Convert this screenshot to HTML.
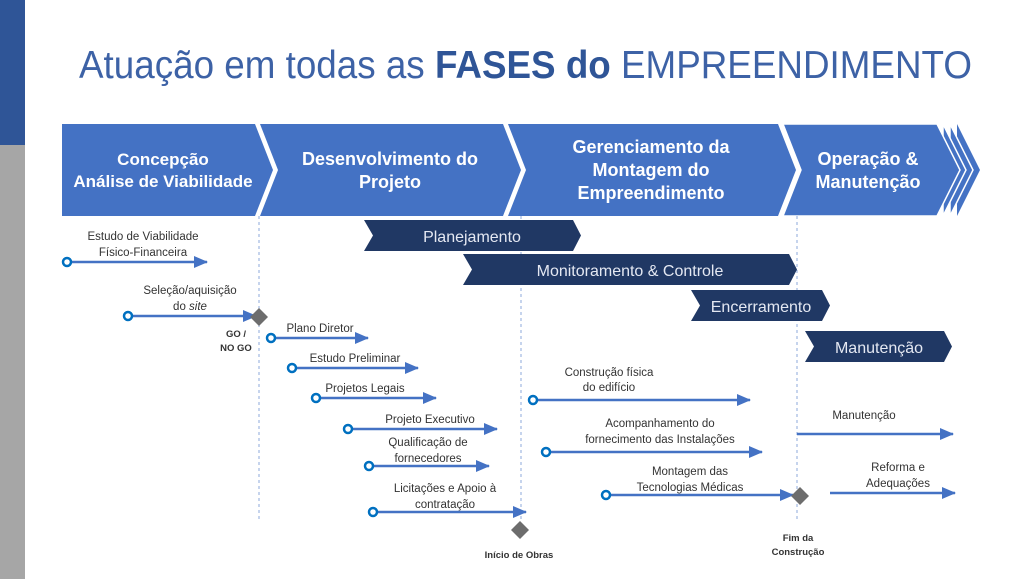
<!DOCTYPE html>
<html><head><meta charset="utf-8"><style>
html,body{margin:0;padding:0;background:#fff;}
svg{display:block;font-family:"Liberation Sans",sans-serif;}
</style></head><body>
<svg width="1024" height="579" viewBox="0 0 1024 579" xmlns="http://www.w3.org/2000/svg">
<defs>
<marker id="ah" markerWidth="14" markerHeight="12" refX="13" refY="6" orient="auto" markerUnits="userSpaceOnUse">
<path d="M0,0 L14,6 L0,12 Z" fill="#4472C4"/></marker>
</defs>
<rect x="0" y="0" width="25" height="145" fill="#2F5597"/>
<rect x="0" y="145" width="25" height="434" fill="#A6A6A6"/>
<text x="79" y="78" font-size="39" fill="#3D62A6" textLength="893" lengthAdjust="spacingAndGlyphs">Atuação em todas as <tspan font-weight="bold" fill="#2F5597">FASES do</tspan> EMPREENDIMENTO</text>

<g fill="#4472C4">
<polygon points="62,124 255,124 273,170 255,216 62,216"/>
<polygon points="260,124 503,124 521,170 503,216 260,216 278,170"/>
<polygon points="508,124 778,124 796,170 778,216 508,216 526,170"/>
<polygon points="957,124 980,170 957,216"/>
<polygon points="950,124 973,170 950,216" stroke="#fff" stroke-width="1.5"/>
<polygon points="943,124 966,170 943,216" stroke="#fff" stroke-width="1.5"/>
<polygon points="783,124 937,124 960,170 937,216 783,216 801,170" stroke="#fff" stroke-width="1.5"/>
</g>
<g fill="#fff" font-weight="bold" font-size="17" text-anchor="middle">
<text x="163" y="165">Concepção</text>
<text x="163" y="187">Análise de Viabilidade</text>
<text x="390" y="165" font-size="18">Desenvolvimento do</text>
<text x="390" y="188" font-size="18">Projeto</text>
<text x="651" y="153" font-size="18">Gerenciamento  da</text>
<text x="651" y="176" font-size="18">Montagem do</text>
<text x="651" y="199" font-size="18">Empreendimento</text>
<text x="868" y="165" font-size="18">Operação &amp;</text>
<text x="868" y="188" font-size="18">Manutenção</text>
</g>

<g stroke="#8EAADB" stroke-width="1" stroke-dasharray="3,3">
<line x1="259" y1="216" x2="259" y2="520"/>
<line x1="521" y1="216" x2="521" y2="520"/>
<line x1="797" y1="216" x2="797" y2="520"/>
</g>

<g fill="#203864">
<polygon points="364,220 573,220 581,235.5 573,251 364,251 373,235.5"/>
<polygon points="463,254 789,254 797,269.5 789,285 463,285 472,269.5"/>
<polygon points="691,290 822,290 830,305.5 822,321 691,321 700,305.5"/>
<polygon points="805,331 944,331 952,346.5 944,362 805,362 814,346.5"/>
</g>
<g fill="#E4E8F2" font-size="16" text-anchor="middle">
<text x="472" y="242">Planejamento</text>
<text x="630" y="276">Monitoramento &amp; Controle</text>
<text x="761" y="312">Encerramento</text>
<text x="879" y="353">Manutenção</text>
</g>

<g stroke="#4472C4" stroke-width="2.5" marker-end="url(#ah)">
<line x1="71" y1="262" x2="207" y2="262"/>
<line x1="132" y1="316" x2="256" y2="316"/>
<line x1="275" y1="338" x2="368" y2="338"/>
<line x1="296" y1="368" x2="418" y2="368"/>
<line x1="320" y1="398" x2="436" y2="398"/>
<line x1="352" y1="429" x2="497" y2="429"/>
<line x1="373" y1="466" x2="489" y2="466"/>
<line x1="377" y1="512" x2="526" y2="512"/>
<line x1="537" y1="400" x2="750" y2="400"/>
<line x1="550" y1="452" x2="762" y2="452"/>
<line x1="610" y1="495" x2="793" y2="495"/>
<line x1="797" y1="434" x2="953" y2="434"/>
<line x1="830" y1="493" x2="955" y2="493"/>
</g>
<g fill="#fff" stroke="#0070C0" stroke-width="2.5">
<circle cx="67" cy="262" r="4"/>
<circle cx="128" cy="316" r="4"/>
<circle cx="271" cy="338" r="4"/>
<circle cx="292" cy="368" r="4"/>
<circle cx="316" cy="398" r="4"/>
<circle cx="348" cy="429" r="4"/>
<circle cx="369" cy="466" r="4"/>
<circle cx="373" cy="512" r="4"/>
<circle cx="533" cy="400" r="4"/>
<circle cx="546" cy="452" r="4"/>
<circle cx="606" cy="495" r="4"/>
</g>
<g fill="#6D6D6D">
<polygon points="259,308 268,317 259,326 250,317"/>
<polygon points="520,521 529,530 520,539 511,530"/>
<polygon points="800,487 809,496 800,505 791,496"/>
</g>

<g fill="#333" font-size="11.5" text-anchor="middle">
<text x="143" y="240">Estudo de Viabilidade</text>
<text x="143" y="256">Físico-Financeira</text>
<text x="190" y="294">Seleção/aquisição</text>
<text x="190" y="310">do <tspan font-style="italic">site</tspan></text>
<text x="320" y="332">Plano Diretor</text>
<text x="355" y="362">Estudo Preliminar</text>
<text x="365" y="392">Projetos Legais</text>
<text x="430" y="423">Projeto Executivo</text>
<text x="428" y="446">Qualificação de</text>
<text x="428" y="462">fornecedores</text>
<text x="445" y="492">Licitações e Apoio à</text>
<text x="445" y="508">contratação</text>
<text x="609" y="376">Construção física</text>
<text x="609" y="391">do edifício</text>
<text x="660" y="427">Acompanhamento  do</text>
<text x="660" y="443">fornecimento das Instalações</text>
<text x="690" y="475">Montagem das</text>
<text x="690" y="491">Tecnologias Médicas</text>
<text x="864" y="419">Manutenção</text>
<text x="898" y="471">Reforma e</text>
<text x="898" y="487">Adequações</text>
</g>
<g fill="#333" font-size="9.5" font-weight="bold" text-anchor="middle">
<text x="236" y="337">GO /</text>
<text x="236" y="351">NO GO</text>
<text x="519" y="558">Início de Obras</text>
<text x="798" y="541">Fim da</text>
<text x="798" y="555">Construção</text>
</g>
</svg>
</body></html>
